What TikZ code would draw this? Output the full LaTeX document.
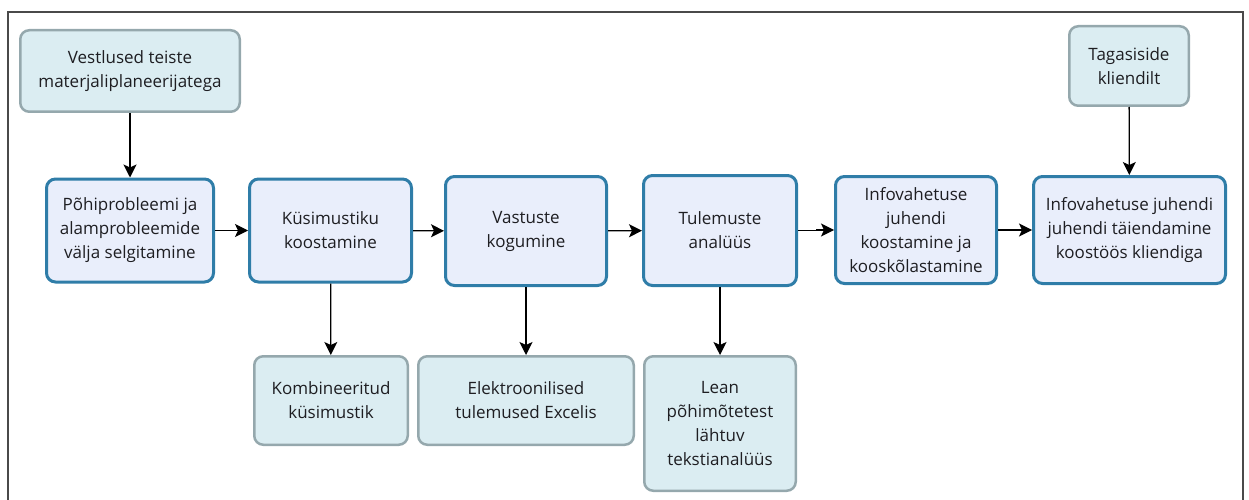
\documentclass[tikz,border=0pt]{standalone}
\usepackage{fontspec}
\setmainfont{Open Sans}
\usetikzlibrary{arrows.meta}
\definecolor{stepfill}{HTML}{E9EEFB}
\definecolor{stepline}{HTML}{2F7DA8}
\definecolor{infofill}{HTML}{DBEDF2}
\definecolor{infoline}{HTML}{95A8AD}
\definecolor{txt}{HTML}{1E1E22}
\definecolor{frameline}{HTML}{4A4A4A}
\tikzset{
  stepbox/.style={draw=stepline, fill=stepfill, line width=3pt, rounded corners=9pt,
    align=center, inner sep=0pt, text=txt, font=\fontsize{17}{24}\selectfont},
  infobox/.style={draw=infoline, fill=infofill, line width=2.5pt, rounded corners=9pt,
    align=center, inner sep=0pt, text=txt, font=\fontsize{17}{24}\selectfont},
  flow/.style={line width=1.3pt, -{Stealth[length=13pt, width=13pt, inset=3pt]}}
}
\begin{document}
\begin{tikzpicture}[x=1pt, y=-1pt]
\useasboundingbox (0,0) rectangle (1249,500);
% outer frame (open at the bottom)
\draw[frameline, line width=1.5pt] (8,505) -- (8,12) -- (1243,12) -- (1243,505);

% process steps
\node[stepbox, minimum width=167pt, minimum height=103pt] (p1) at (130,230.5)
  {Põhiprobleemi ja\\alamprobleemide\\välja selgitamine};
\node[stepbox, minimum width=162pt, minimum height=103pt] (p2) at (330.5,230.5)
  {Küsimustiku\\koostamine};
\node[stepbox, minimum width=161pt, minimum height=109pt] (p3) at (526,231)
  {Vastuste\\kogumine};
\node[stepbox, minimum width=153pt, minimum height=110pt] (p4) at (720,230.5)
  {Tulemuste\\analüüs};
\node[stepbox, minimum width=161pt, minimum height=107pt] (p5) at (916,230)
  {Infovahetuse\\juhendi\\koostamine ja\\kooskõlastamine};
\node[stepbox, minimum width=192pt, minimum height=107pt] (p6) at (1129.5,230)
  {Infovahetuse juhendi\\juhendi täiendamine\\koostöös kliendiga};

% inputs and outputs
\node[infobox, minimum width=219.5pt, minimum height=81.5pt] (v1) at (130,71)
  {Vestlused teiste\\materjaliplaneerijatega};
\node[infobox, minimum width=119.5pt, minimum height=79.5pt] (tg) at (1129,66)
  {Tagasiside\\kliendilt};
\node[infobox, minimum width=153.5pt, minimum height=88.5pt] (k1) at (331,400.5)
  {Kombineeritud\\küsimustik};
\node[infobox, minimum width=215.5pt, minimum height=88.5pt] (k2) at (526,400.5)
  {Elektroonilised\\tulemused Excelis};
\node[infobox, minimum width=151.5pt, minimum height=134.5pt] (k3) at (720,423.5)
  {Lean\\põhimõtetest\\lähtuv\\tekstianalüüs};

% connectors
\draw[flow] (v1) -- (p1);
\draw[flow] (tg) -- (p6);
\draw[flow] (p1) -- (p2);
\draw[flow] (p2) -- (p3);
\draw[flow] (p3) -- (p4);
\draw[flow] (p4.east) -- ++(19,0) |- (p5.west);
\draw[flow] (p5) -- (p6);
\draw[flow] (p2) -- (k1);
\draw[flow] (p3) -- (k2);
\draw[flow] (p4) -- (k3);
\end{tikzpicture}
\end{document}
